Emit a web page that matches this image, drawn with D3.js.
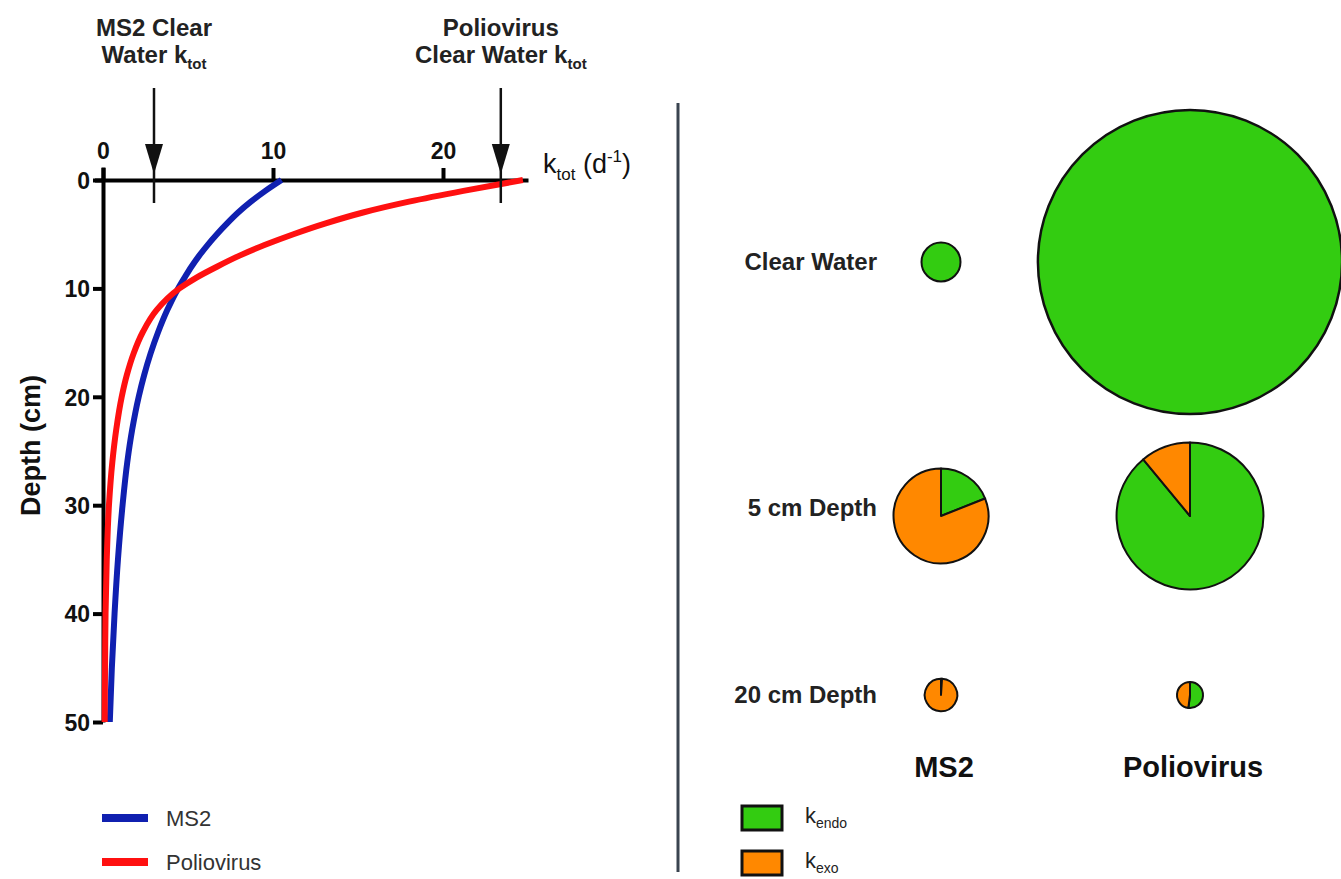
<!DOCTYPE html>
<html>
<head>
<meta charset="utf-8">
<script src="https://cdn.jsdelivr.net/npm/d3@7"></script>
<style>
  body { margin: 0; background: #fff; }
  svg text { font-family: "Liberation Sans", Arial, sans-serif; }
</style>
</head>
<body>
<div id="chart"></div>
<script>
// depth profiles (depth in cm, k_tot in 1/d)
var depthMS2 = [0, 1, 2, 3, 4, 5, 6, 7, 8, 9, 10, 12, 14, 16, 18, 20, 23, 26, 30, 35, 40, 45, 50];
var ktotMS2 = [10.5, 9.55, 8.7, 7.95, 7.3, 6.7, 6.15, 5.65, 5.2, 4.8, 4.42, 3.78, 3.25, 2.8, 2.42, 2.1, 1.72, 1.43, 1.15, 0.88, 0.68, 0.52, 0.4];
var depthPolio = [0, 1, 2, 3, 4, 5, 6, 7, 8, 9, 10, 12, 14, 16, 18, 20, 23, 26, 30, 35, 40, 45, 50];
var ktotPolio = [24.7, 21.2, 18.0, 15.3, 13.1, 11.2, 9.5, 8.0, 6.7, 5.5, 4.5, 3.15, 2.35, 1.8, 1.4, 1.1, 0.78, 0.55, 0.35, 0.22, 0.15, 0.12, 0.1];

var xTicks = [0, 10, 20];
var yTicks = [0, 10, 20, 30, 40, 50];

// clear water k_tot markers (arrows)
var arrowViruses = ["MS2", "Poliovirus"];
var arrowKtot = [3.0, 23.4];

// pie grid
var pieRows = ["Clear Water", "5 cm Depth", "20 cm Depth"];
var pieViruses = ["MS2", "Poliovirus"];
var pieKtotMS2 = [3.0, 7.3, 2.5];
var pieKtotPolio = [23.4, 11.3, 2.0];
var endoFracMS2 = [1.0, 0.19, 0.01];
var endoFracPolio = [1.0, 0.89, 0.52];

var green = "#33cc11", orange = "#ff8800";

var svg = d3.select("#chart").append("svg")
  .attr("width", 1341).attr("height", 879);

// ---------- left panel ----------
var x = d3.scaleLinear().domain([-0.5, 25]).range([94.5, 528]);
var y = d3.scaleLinear().domain([-1.2, 50]).range([167, 722]);

var xAxis = svg.append("g")
  .attr("transform", "translate(0," + y(0) + ")")
  .call(d3.axisTop(x).tickValues(xTicks).tickSize(12).tickSizeOuter(0).tickPadding(9));
var yAxis = svg.append("g")
  .attr("transform", "translate(" + x(0) + ",0)")
  .call(d3.axisLeft(y).tickValues(yTicks).tickSize(10).tickSizeOuter(0).tickPadding(3));

[xAxis, yAxis].forEach(function (g) {
  g.select(".domain").attr("stroke", "#000").attr("stroke-width", 4);
  g.selectAll(".tick line").attr("stroke", "#000").attr("stroke-width", 4);
  g.selectAll(".tick text").attr("fill", "#111").attr("font-size", 23).attr("font-weight", "bold");
});
yAxis.selectAll(".tick text").attr("dy", "0.36em");

// y axis title
svg.append("text")
  .attr("transform", "translate(40," + y(24.5) + ") rotate(-90)")
  .attr("text-anchor", "middle")
  .attr("font-size", 27).attr("font-weight", "bold").attr("fill", "#111")
  .text("Depth (cm)");

// x axis label k_tot (d-1)
var xl = svg.append("text").attr("x", 543).attr("y", 173)
  .attr("font-size", 27).attr("fill", "#111");
xl.append("tspan").text("k");
xl.append("tspan").attr("font-size", 17).attr("dy", 7).text("tot");
xl.append("tspan").attr("dy", -7).text(" (d");
xl.append("tspan").attr("font-size", 17).attr("dy", -11).text("-1");
xl.append("tspan").attr("dy", 11).text(")");

// curves
var line = d3.line().curve(d3.curveMonotoneY)
  .x(function (d) { return x(d[1]); })
  .y(function (d) { return y(d[0]); });

svg.append("path")
  .datum(depthMS2.map(function (d, i) { return [d, ktotMS2[i]]; }))
  .attr("d", line).attr("fill", "none")
  .attr("stroke", "#1020b0").attr("stroke-width", 6);
svg.append("path")
  .datum(depthPolio.map(function (d, i) { return [d, ktotPolio[i]]; }))
  .attr("d", line).attr("fill", "none")
  .attr("stroke", "#ff1010").attr("stroke-width", 6);

// arrows + labels
var arrowLabels = [["MS2 Clear", "Water k"], ["Poliovirus", "Clear Water k"]];
arrowKtot.forEach(function (k, i) {
  var cx = x(k);
  svg.append("line")
    .attr("x1", cx).attr("x2", cx).attr("y1", 88).attr("y2", 203)
    .attr("stroke", "#111").attr("stroke-width", 2.5);
  svg.append("path")
    .attr("d", "M" + (cx - 9) + ",144L" + (cx + 9) + ",144L" + cx + ",174Z")
    .attr("fill", "#111");
  svg.append("text").attr("x", cx).attr("y", 36)
    .attr("text-anchor", "middle").attr("font-size", 24).attr("font-weight", "bold").attr("fill", "#222")
    .text(arrowLabels[i][0]);
  var t2 = svg.append("text").attr("x", cx).attr("y", 63)
    .attr("text-anchor", "middle").attr("font-size", 24).attr("font-weight", "bold").attr("fill", "#222");
  t2.append("tspan").text(arrowLabels[i][1]);
  t2.append("tspan").attr("font-size", 15).attr("dy", 6).text("tot");
});

// line legend
var lineLegend = [["MS2", "#1020b0"], ["Poliovirus", "#ff1010"]];
lineLegend.forEach(function (d, i) {
  var ly = 818 + i * 44;
  svg.append("line").attr("x1", 102).attr("x2", 148).attr("y1", ly).attr("y2", ly)
    .attr("stroke", d[1]).attr("stroke-width", 8);
  svg.append("text").attr("x", 166).attr("y", ly + 8)
    .attr("font-size", 22).attr("fill", "#333").text(d[0]);
});

// divider
svg.append("line").attr("x1", 678).attr("x2", 678).attr("y1", 103).attr("y2", 872)
  .attr("stroke", "#3a4450").attr("stroke-width", 3);

// ---------- right panel: pies ----------
var colX = d3.scaleOrdinal().domain(pieViruses).range([941, 1190]);
var rowY = d3.scaleOrdinal().domain(pieRows).range([262, 516, 695]);
var rScale = d3.scaleLinear().domain([0, 1]).range([0, 6.5]);

var pie = d3.pie().sort(null).value(function (d) { return d.v; });

var pieData = [];
pieRows.forEach(function (row, ri) {
  pieData.push({ row: row, virus: "MS2", ktot: pieKtotMS2[ri], endo: endoFracMS2[ri] });
  pieData.push({ row: row, virus: "Poliovirus", ktot: pieKtotPolio[ri], endo: endoFracPolio[ri] });
});

pieData.forEach(function (p) {
  var r = rScale(p.ktot);
  var g = svg.append("g")
    .attr("transform", "translate(" + colX(p.virus) + "," + rowY(p.row) + ")");
  var slices = pie([{ k: "endo", v: p.endo }, { k: "exo", v: 1 - p.endo }]);
  var arc = d3.arc().innerRadius(0).outerRadius(r);
  g.selectAll("path").data(slices.filter(function (s) { return s.data.v > 0; }))
    .enter().append("path")
    .attr("d", arc)
    .attr("fill", function (s) { return s.data.k === "endo" ? green : orange; })
    .attr("stroke", "#111").attr("stroke-width", r > 100 ? 2.5 : 2)
    .attr("stroke-linejoin", "round");
});

// row labels
pieRows.forEach(function (row, i) {
  svg.append("text").attr("x", 877).attr("y", rowY(row) + (i === 1 ? 0 : 8))
    .attr("text-anchor", "end").attr("font-size", 24).attr("font-weight", "bold").attr("fill", "#222")
    .text(row);
});
// column labels
pieViruses.forEach(function (v) {
  svg.append("text").attr("x", colX(v) + 3).attr("y", 777)
    .attr("text-anchor", "middle").attr("font-size", 29).attr("font-weight", "bold").attr("fill", "#111")
    .text(v);
});

// pie legend
var pieLegend = [["endo", green], ["exo", orange]];
pieLegend.forEach(function (d, i) {
  var ly = 806 + i * 45;
  svg.append("rect").attr("x", 742).attr("y", ly).attr("width", 40).attr("height", 24)
    .attr("fill", d[1]).attr("stroke", "#111").attr("stroke-width", 3);
  var t = svg.append("text").attr("x", 805).attr("y", ly + 17)
    .attr("font-size", 22).attr("fill", "#222");
  t.append("tspan").text("k");
  t.append("tspan").attr("font-size", 14).attr("dy", 5).text(d[0]);
});
</script>
</body>
</html>
